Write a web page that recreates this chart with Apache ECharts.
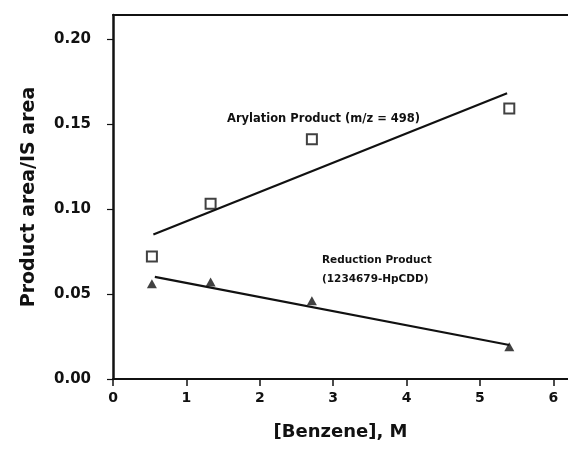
<!DOCTYPE html>
<html>
<head>
<meta charset="utf-8">
<script src="https://cdn.jsdelivr.net/npm/echarts@6/dist/echarts.min.js"></script>
<style>
  html, body { margin: 0; padding: 0; background: #fff; }
  #chart { width: 568px; height: 452px; }
</style>
</head>
<body>
<div id="chart"></div>
<script>
// Benzene concentration (M) for each run
const benzene = [0.53, 1.33, 2.71, 5.40];
// Arylation product (m/z = 498), product area / IS area
const arylation = [0.072, 0.103, 0.141, 0.159];
// Reduction product (1234679-HpCDD), product area / IS area
const reduction = [0.056, 0.057, 0.046, 0.019];

// End points of the fitted straight lines
const arylFitX = [0.55, 5.37];
const arylFitY = [0.085, 0.168];
const reducFitX = [0.57, 5.40];
const reducFitY = [0.060, 0.020];

const xTicks = [0, 1, 2, 3, 4, 5, 6];
const yTicks = [0, 0.05, 0.10, 0.15, 0.20];

const ink = '#111';
const fontFam = '"DejaVu Sans", Verdana, sans-serif';

const pairs = (xs, ys) => xs.map((x, i) => [x, ys[i]]);

const chart = echarts.init(document.getElementById('chart'));
chart.setOption({
  animation: false,
  backgroundColor: '#fff',
  grid: { left: 113, right: -1, top: 15, bottom: 73, containLabel: false },
  xAxis: [{
    type: 'value', min: 0, max: 6.2, interval: 1,
    name: '[Benzene], M', nameLocation: 'middle', nameGap: 44,
    nameTextStyle: { fontFamily: fontFam, fontWeight: 'bold', fontSize: 18, color: ink },
    axisLine: { lineStyle: { color: ink, width: 2 } },
    axisTick: { show: true, length: 7, lineStyle: { color: ink, width: 1.5 }, customValues: xTicks },
    axisLabel: { fontFamily: fontFam, fontWeight: 'bold', fontSize: 14, color: ink, margin: 12,
                 customValues: xTicks },
    splitLine: { show: false }
  }, {
    type: 'value', position: 'top', min: 0, max: 6.2,
    axisLine: { show: true, lineStyle: { color: ink, width: 2 } },
    axisTick: { show: false }, axisLabel: { show: false }, splitLine: { show: false }
  }],
  yAxis: {
    type: 'value', min: 0, max: 0.214,
    name: 'Product area/IS area', nameLocation: 'middle', nameGap: 74, nameRotate: 90,
    nameTextStyle: { fontFamily: fontFam, fontWeight: 'bold', fontSize: 19, color: ink },
    axisLine: { lineStyle: { color: ink, width: 2.5 } },
    axisTick: { show: true, length: 6, lineStyle: { color: ink, width: 1.2 }, customValues: yTicks },
    axisLabel: { fontFamily: fontFam, fontWeight: 'bold', fontSize: 15, color: ink, margin: 22,
                 customValues: yTicks, formatter: v => v.toFixed(2) },
    splitLine: { show: false }
  },
  series: [
    {
      name: 'Arylation fit', type: 'line', data: pairs(arylFitX, arylFitY),
      symbol: 'none', lineStyle: { color: ink, width: 2.2 }, z: 2
    },
    {
      name: 'Reduction fit', type: 'line', data: pairs(reducFitX, reducFitY),
      symbol: 'none', lineStyle: { color: ink, width: 2.2 }, z: 2
    },
    {
      name: 'Arylation Product', type: 'scatter', data: pairs(benzene, arylation),
      symbol: 'rect', symbolSize: 10,
      itemStyle: { color: '#fff', borderColor: ink, borderWidth: 2 }, z: 3
    },
    {
      name: 'Reduction Product', type: 'scatter', data: pairs(benzene, reduction),
      symbol: 'triangle', symbolSize: [10, 9],
      itemStyle: { color: ink }, z: 3
    }
  ],
  graphic: [
    { type: 'text', left: 227, top: 113,
      style: { text: 'Arylation Product (m/z = 498)', fontFamily: fontFam, fontWeight: 'bold',
               fontSize: 11.5, fill: ink } },
    { type: 'text', left: 322, top: 251,
      style: { text: 'Reduction Product\n(1234679-HpCDD)', fontFamily: fontFam, fontWeight: 'bold',
               fontSize: 10.5, lineHeight: 19, fill: ink } }
  ]
});
</script>
</body>
</html>
